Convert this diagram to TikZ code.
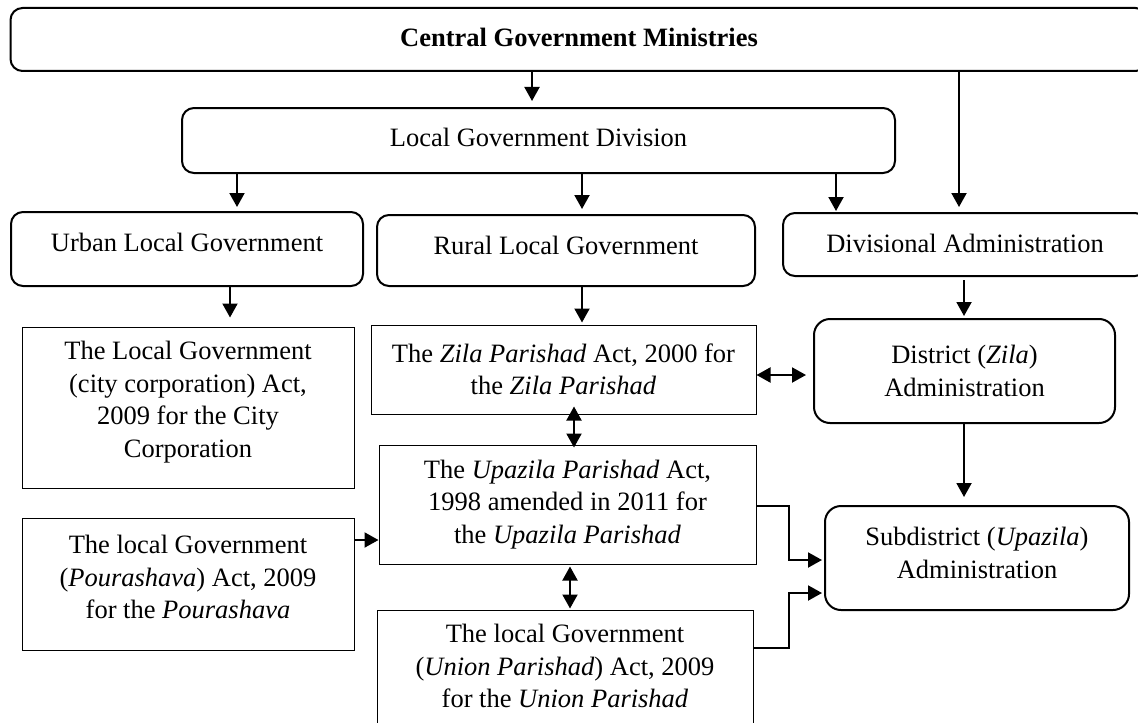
\documentclass[tikz,border=0pt]{standalone}
\usepackage{fontspec}
\setmainfont{Liberation Serif}
\usetikzlibrary{arrows.meta}

\begin{document}
\begin{tikzpicture}[x=0.5pt,y=-0.5pt,
  font=\fontsize{13.25}{16.25}\selectfont,
  rb/.style={draw,rounded corners=6pt,line width=1pt,align=center,inner sep=0pt},
  sb/.style={draw,line width=0.5pt,align=center,inner sep=0pt},
  ed/.style={-{Triangle[width=7.5pt,length=7pt]},line width=1pt},
  ded/.style={{Triangle[width=7.5pt,length=7pt]}-{Triangle[width=7.5pt,length=7pt]},line width=1pt}]
\useasboundingbox (0,0) rectangle (1138,722);
% top levels
\node[rb,minimum width=568.5pt,minimum height=31.5pt,text depth=2.5pt,font=\fontsize{13.25}{16.25}\selectfont\bfseries] (cgm) at (579,39.5) {Central Government Ministries};
\node[rb,minimum width=356.5pt,minimum height=32.5pt,text depth=3.5pt] (lgd) at (538.5,140.5) {Local Government Division};
\node[rb,minimum width=176pt,minimum height=37pt,text depth=7pt] (urban) at (187,249) {Urban Local Government};
\node[rb,minimum width=189pt,minimum height=35.5pt,text depth=5.5pt] (rural) at (566,250.5) {Rural Local Government};
\node[rb,minimum width=182pt,minimum height=31.5pt,text depth=1.5pt] (div) at (965,244.5) {Divisional Administration};
% acts
\node[sb,minimum width=166pt,minimum height=80.5pt,text depth=8pt] (city) at (188,407.5)
  {The Local Government\\(city corporation) Act,\\2009 for the City\\Corporation};
\node[sb,minimum width=192.5pt,minimum height=44.5pt] (zila) at (563.5,369.5)
  {The \textit{Zila Parishad} Act, 2000 for\\the \textit{Zila Parishad}};
\node[sb,minimum width=188.5pt,minimum height=59.5pt] (upa) at (567.5,504.5)
  {The \textit{Upazila Parishad} Act,\\1998 amended in 2011 for\\the \textit{Upazila Parishad}};
\node[sb,minimum width=166pt,minimum height=66pt,text depth=7pt] (pou) at (188,584)
  {The local Government\\(\textit{Pourashava}) Act, 2009\\for the \textit{Pourashava}};
\node[sb,minimum width=188pt,minimum height=62.5pt,text depth=6.5pt] (uni) at (565,672.5)
  {The local Government\\(\textit{Union Parishad}) Act, 2009\\for the \textit{Union Parishad}};
% field administration
\node[rb,rounded corners=8pt,minimum width=150.5pt,minimum height=52pt] (dist) at (964.5,371)
  {District (\textit{Zila})\\Administration};
\node[rb,rounded corners=8pt,minimum width=152pt,minimum height=52pt,text depth=5pt] (sub) at (977,558)
  {Subdistrict (\textit{Upazila})\\Administration};
% connectors
\draw[ed,shorten >=3pt] (cgm.south -| 532,0) -- (lgd.north -| 532,0);
\draw[ed,shorten >=2pt] (lgd.south -| 237,0) -- (urban.north -| 237,0);
\draw[ed,shorten >=2.5pt] (lgd.south -| 582,0) -- (rural.north -| 582,0);
\draw[ed,shorten >=0.5pt] (lgd.south -| 836,0) -- (div.north -| 836,0);
\draw[ed,shorten >=2.5pt] (cgm.south -| 959,0) -- (div.north -| 959,0);
\draw[ed,shorten >=4.5pt] (urban.south -| 230,0) -- (city.north -| 230,0);
\draw[ed,shorten >=1pt] (rural.south -| 582,0) -- (zila.north -| 582,0);
\draw[ed,shorten <=1.5pt,shorten >=1pt] (div.south -| 964,0) -- (dist.north -| 964,0);
\draw[ed,shorten >=4pt] (dist.south -| 964,0) -- (sub.north -| 964,0);
\draw[ded,shorten <=-4pt,shorten >=-1.5pt] (zila.south -| 574,0) -- (upa.north -| 574,0);
\draw[ded,shorten <=1pt,shorten >=0.5pt] (upa.south -| 570,0) -- (uni.north -| 570,0);
\draw[ed] (pou.east |- 0,540) -- (upa.west |- 0,540);
\draw[ded,shorten >=3.5pt] (zila.east |- 0,375) -- (dist.west |- 0,375);
\draw[ed,shorten >=1pt] (upa.east |- 0,506) -| (789,560) -- (sub.west |- 0,560);
\draw[ed,shorten >=1pt] (uni.east |- 0,648) -| (789,593) -- (sub.west |- 0,593);
\end{tikzpicture}
\end{document}
